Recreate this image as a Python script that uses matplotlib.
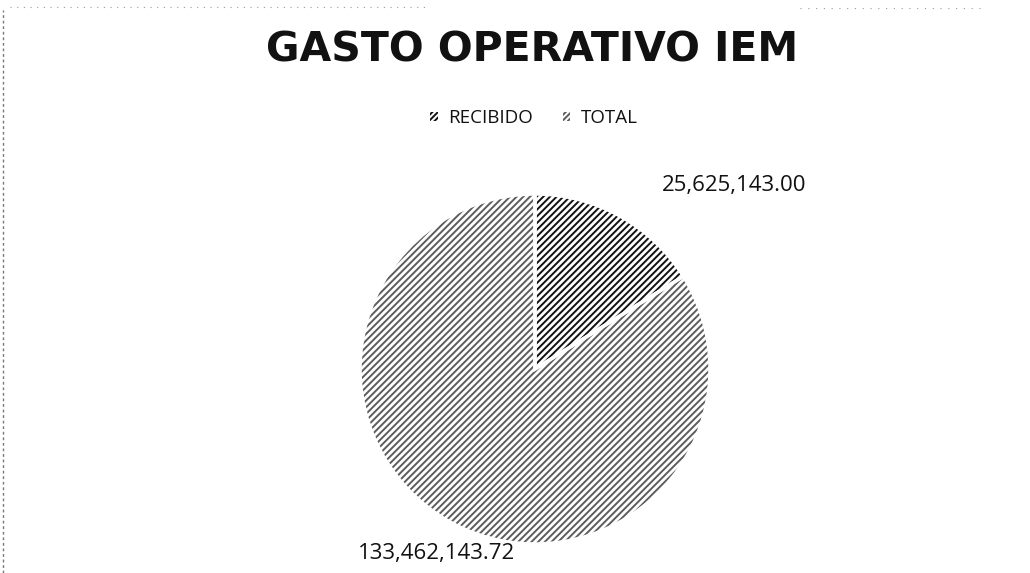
import matplotlib
matplotlib.use("Agg")
import matplotlib.pyplot as plt
from matplotlib.lines import Line2D
from matplotlib.patches import Patch

title = "GASTO OPERATIVO IEM"
categories = ["RECIBIDO", "TOTAL"]
values = [25625143.00, 133462143.72]
value_labels = ["25,625,143.00", "133,462,143.72"]

W, H = 1030, 573
fig = plt.figure(figsize=(W / 100, H / 100), dpi=100)
ax = fig.add_axes([0, 0, 1, 1])

cx, cy, r = 535, H - 369, 175

plt.rcParams["hatch.linewidth"] = 1.4
wedges, _ = ax.pie(values, center=(cx, cy), radius=r, startangle=90,
                   counterclock=False, frame=True)
hatch_cols = ["#111111", "#5c5c5c"]
for w, hc in zip(wedges, hatch_cols):
    w.set_facecolor("white")
    w.set_edgecolor(hc)
    w.set_hatch("/////")
    w.set_linewidth(0)

# white separators
ax.pie(values, center=(cx, cy), radius=r, startangle=90,
       counterclock=False, frame=True,
       wedgeprops=dict(facecolor="none", edgecolor="white", linewidth=2.5))
ax.set_xlim(0, W)
ax.set_ylim(0, H)
ax.set_aspect("equal")
ax.axis("off")

# data labels
ax.text(662, H - 185, value_labels[0], fontsize=16, family="Open Sans",
        ha="left", va="center", color="#111111")
ax.text(358, H - 554, value_labels[1], fontsize=16, family="Open Sans",
        ha="left", va="center", color="#111111")

fig.text(532 / W, 1 - 50 / H, title, fontsize=29.5, family="DejaVu Sans",
         weight="bold", ha="center", va="center", color="#111111")

handles = [Patch(facecolor="white", edgecolor=c, hatch="//////", linewidth=0)
           for c in hatch_cols]
fig.legend(handles, categories, loc="center", bbox_to_anchor=(534 / W, 1 - 118 / H),
           ncol=2, frameon=False, prop=dict(family="Open Sans", size=13.5),
           handlelength=0.4, handleheight=0.4, handletextpad=0.55, columnspacing=1.6,
           labelcolor="#111111")

# scanned page border remnants
fig.add_artist(Line2D([3 / W, 3 / W], [0, 1 - 10 / H], transform=fig.transFigure,
                      color="#777777", lw=1, ls=(0, (2, 2))))
fig.add_artist(Line2D([10 / W, 430 / W], [1 - 7 / H, 1 - 7 / H], transform=fig.transFigure,
                      color="#999999", lw=0.8, ls=(0, (1, 5))))
fig.add_artist(Line2D([800 / W, 985 / W], [1 - 8 / H, 1 - 8 / H], transform=fig.transFigure,
                      color="#999999", lw=0.8, ls=(0, (1, 6))))

fig.savefig("out.png", dpi=100)
